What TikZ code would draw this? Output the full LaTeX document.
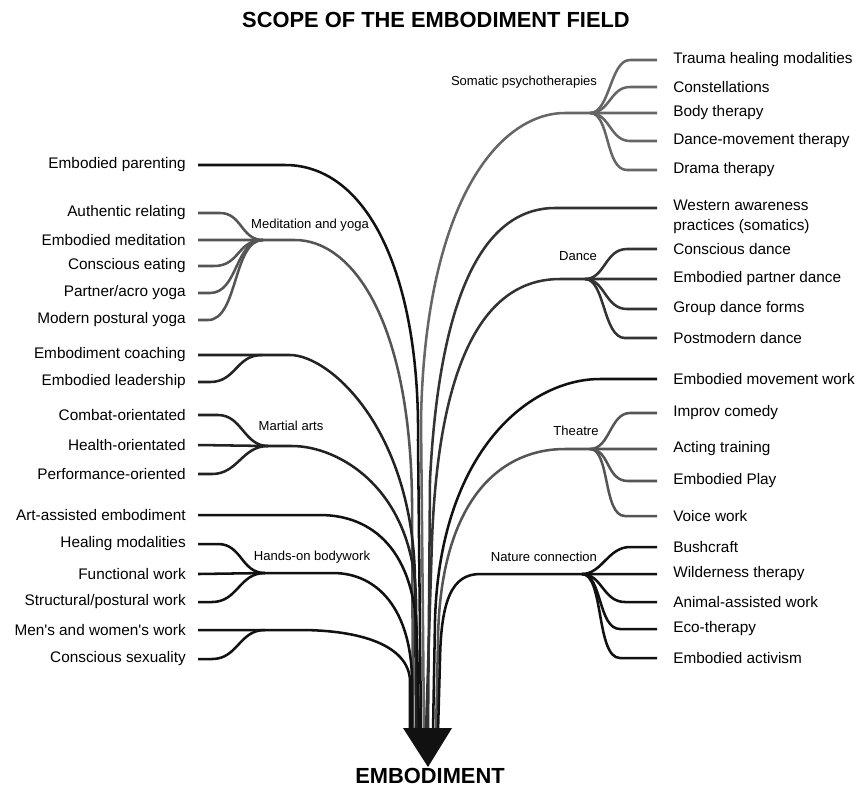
\documentclass[tikz,border=0pt]{standalone}
\usepackage{fontspec}
\setmainfont{Liberation Sans}
\definecolor{cBlk}{HTML}{111111}
\definecolor{cDk}{HTML}{222222}
\definecolor{cMd}{HTML}{333333}
\definecolor{cGr}{HTML}{555555}
\definecolor{cLt}{HTML}{666666}
\begin{document}
\begin{tikzpicture}[x=0.75pt,y=-0.75pt,
  lbl/.style={anchor=east,inner xsep=9pt,inner ysep=0pt,font=\fontsize{11.5}{15}\selectfont},
  rlbl/.style={anchor=west,inner xsep=12pt,inner ysep=0pt,font=\fontsize{11.5}{15}\selectfont,align=left},
  cat/.style={inner sep=0pt,font=\fontsize{9.8}{11}\selectfont},
  ttl/.style={inner sep=0pt,font=\bfseries\fontsize{16.4}{18}\selectfont},
  br/.style={line width=1.9pt}]
\useasboundingbox (0,0) rectangle (862,794);

% titles
\node[ttl] (title) at (436,20) {SCOPE OF THE EMBODIMENT FIELD};
\node[ttl] (emb) at (430,776) {EMBODIMENT};

% ---------- left labels ----------
\node[lbl] (p0) at (198,165) {Embodied parenting};
\node[lbl] (a1) at (198,213) {Authentic relating};
\node[lbl] (a2) at (198,240) {Embodied meditation};
\node[lbl] (a3) at (198,266) {Conscious eating};
\node[lbl] (a4) at (198,293) {Partner/acro yoga};
\node[lbl] (a5) at (198,320) {Modern postural yoga};
\node[lbl] (c1) at (198,355) {Embodiment coaching};
\node[lbl] (c2) at (198,382) {Embodied leadership};
\node[lbl] (m1) at (198,415) {Combat-orientated};
\node[lbl] (m2) at (198,445) {Health-orientated};
\node[lbl] (m3) at (198,474) {Performance-oriented};
\node[lbl] (art) at (198,515) {Art-assisted embodiment};
\node[lbl] (h1) at (198,544) {Healing modalities};
\node[lbl] (h2) at (198,574) {Functional work};
\node[lbl] (h3) at (198,602) {Structural/postural work};
\node[lbl] (w1) at (198,630) {Men\textquotesingle s and women\textquotesingle s work};
\node[lbl] (w2) at (198,659) {Conscious sexuality};

% ---------- right labels ----------
\node[rlbl] (s1) at (657,60) {Trauma healing modalities};
\node[rlbl] (s2) at (657,87) {Constellations};
\node[rlbl] (s3) at (657,113) {Body therapy};
\node[rlbl] (s4) at (657,141) {Dance-movement therapy};
\node[rlbl] (s5) at (657,170) {Drama therapy};
\node[rlbl] (wa) at (657,217) {Western awareness\\practices (somatics)};
\node[rlbl] (d1) at (657,249) {Conscious dance};
\node[rlbl] (d2) at (657,279) {Embodied partner dance};
\node[rlbl] (d3) at (657,309) {Group dance forms};
\node[rlbl] (d4) at (657,338) {Postmodern dance};
\node[rlbl] (mv) at (657,379) {Embodied movement work};
\node[rlbl] (t1) at (657,413) {Improv comedy};
\node[rlbl] (t2) at (657,449) {Acting training};
\node[rlbl] (t3) at (657,481) {Embodied Play};
\node[rlbl] (t4) at (657,516) {Voice work};
\node[rlbl] (n1) at (657,547) {Bushcraft};
\node[rlbl] (n2) at (657,574) {Wilderness therapy};
\node[rlbl] (n3) at (657,602) {Animal-assisted work};
\node[rlbl] (n4) at (657,629) {Eco-therapy};
\node[rlbl] (n5) at (657,658) {Embodied activism};

% ---------- category labels ----------
\node[cat] (catS) at (524,82) {Somatic psychotherapies};
\node[cat] (catM) at (310,225) {Meditation and yoga};
\node[cat] (catD) at (578,256) {Dance};
\node[cat] (catMA) at (291,426) {Martial arts};
\node[cat] (catT) at (576,431) {Theatre};
\node[cat] (catH) at (312,557) {Hands-on bodywork};
\node[cat] (catN) at (544,557) {Nature connection};

% ---------- hubs ----------
\coordinate (hubM) at (263,240);
\coordinate (hubC) at (262,355);
\coordinate (hubMA) at (268,446);
\coordinate (hubH) at (265,573);
\coordinate (hubW) at (265,630);
\coordinate (hubS) at (590,113);
\coordinate (hubD) at (585,279);
\coordinate (hubT) at (590,449);
\coordinate (hubN) at (582,574);

% ---------- leaves left ----------
\draw[br,cGr] (a1.east) -- ++(22,0) .. controls +(22,0) and +(-22,0) .. (hubM);
\draw[br,cGr] (a3.east) -- ++(16,0) .. controls +(26,0) and +(-26,0) .. (hubM);
\draw[br,cGr] (a4.east) -- ++(12,0) .. controls +(28,0) and +(-28,0) .. (hubM);
\draw[br,cGr] (a5.east) -- ++(10,0) .. controls +(30,0) and +(-30,0) .. (hubM);
\draw[br,cDk] (c2.east) -- ++(12,0) .. controls +(26,0) and +(-26,0) .. (hubC);
\draw[br,cDk] (m1.east) -- ++(20,0) .. controls +(24,0) and +(-24,0) .. (hubMA);
\draw[br,cDk] (m3.east) -- ++(14,0) .. controls +(26,0) and +(-26,0) .. (hubMA);
\draw[br,cBlk] (h1.east) -- ++(20,0) .. controls +(24,0) and +(-24,0) .. (hubH);
\draw[br,cBlk] (h3.east) -- ++(14,0) .. controls +(26,0) and +(-26,0) .. (hubH);
\draw[br,cBlk] (w2.east) -- ++(14,0) .. controls +(26,0) and +(-26,0) .. (hubW);

% ---------- leaves right ----------
\draw[br,cLt] (s1.west) -- ++(-27,0) .. controls +(-20,0) and +(20,0) .. (hubS);
\draw[br,cLt] (s2.west) -- ++(-27,0) .. controls +(-20,0) and +(20,0) .. (hubS);
\draw[br,cLt] (s4.west) -- ++(-27,0) .. controls +(-20,0) and +(20,0) .. (hubS);
\draw[br,cLt] (s5.west) -- ++(-30,0) .. controls +(-22,0) and +(20,0) .. (hubS);
\draw[br,cMd] (d1.west) -- ++(-30,0) .. controls +(-22,0) and +(20,0) .. (hubD);
\draw[br,cMd] (d3.west) -- ++(-30,0) .. controls +(-22,0) and +(20,0) .. (hubD);
\draw[br,cMd] (d4.west) -- ++(-32,0) .. controls +(-22,0) and +(20,0) .. (hubD);
\draw[br,cGr] (t1.west) -- ++(-27,0) .. controls +(-20,0) and +(20,0) .. (hubT);
\draw[br,cGr] (t3.west) -- ++(-29,0) .. controls +(-22,0) and +(20,0) .. (hubT);
\draw[br,cGr] (t4.west) -- ++(-32,0) .. controls +(-22,0) and +(20,0) .. (hubT);
\draw[br,cBlk] (n1.west) -- ++(-27,0) .. controls +(-22,0) and +(20,0) .. (hubN);
\draw[br,cBlk] (n3.west) -- ++(-32,0) .. controls +(-22,0) and +(20,0) .. (hubN);
\draw[br,cBlk] (n4.west) -- ++(-37,0) .. controls +(-22,0) and +(20,0) .. (hubN);
\draw[br,cBlk] (n5.west) -- ++(-37,0) .. controls +(-24,0) and +(22,0) .. (hubN);

% ---------- trunk branches ----------
\coordinate (bP) at (421,732);
\coordinate (bM) at (413,732);
\coordinate (bC) at (416,732);
\coordinate (bMA) at (418,732);
\coordinate (bA) at (419,732);
\coordinate (bH) at (412,732);
\coordinate (bW) at (410,732);
\coordinate (bS) at (424,732);
\coordinate (bWA) at (428,732);
\coordinate (bD) at (426,732);
\coordinate (bMV) at (433,732);
\coordinate (bT) at (436,732);
\coordinate (bN) at (438,732);

\draw[br,cBlk] (p0.east) -- (285,165) .. controls (370,165) and (420,280) .. (418,440) -- (bP);
\draw[br,cGr] (a2.east) -- (hubM) -- (295,240) .. controls (352,240) and (410,320) .. (412,500) -- (bM);
\draw[br,cDk] (c1.east) -- (hubC) -- (290,355) .. controls (330,355) and (413,430) .. (415,580) -- (bC);
\draw[br,cDk] (m2.east) -- (hubMA) -- (292,446) .. controls (340,446) and (414,490) .. (416,600) -- (bMA);
\draw[br,cBlk] (art.east) -- (320,515) .. controls (372,515) and (416,550) .. (417,640) -- (bA);
\draw[br,cBlk] (h2.east) -- (hubH) -- (333,573) .. controls (378,573) and (411,610) .. (412,680) -- (bH);
\draw[br,cBlk] (w1.east) -- (hubW) -- (300,630) .. controls (360,630) and (408,645) .. (410,680) -- (bW);

\draw[br,cLt] (s3.west) -- (hubS) -- (565,113) .. controls (500,113) and (425,200) .. (421,420) -- (bS);
\draw[br,cMd] ([yshift=6.75pt]wa.west) -- (555,208) .. controls (490,208) and (440,280) .. (430,480) -- (bWA);
\draw[br,cMd] (d2.west) -- (hubD) -- (560,279) .. controls (500,279) and (440,330) .. (432,540) -- (bD);
\draw[br,cBlk] (mv.west) -- (600,379) .. controls (530,379) and (440,450) .. (435,620) -- (bMV);
\draw[br,cGr] (t2.west) -- (hubT) -- (565,449) .. controls (500,449) and (440,500) .. (438,640) -- (bT);
\draw[br,cBlk] (n2.west) -- (hubN) -- (480,574) .. controls (452,574) and (441,600) .. (440,660) -- (bN);

% ---------- arrowhead ----------
\coordinate (arL) at (403,728);
\coordinate (arR) at (452,728);
\coordinate (arT) at (428,767);
\fill[cBlk] (arL) -- (arR) -- (arT) -- cycle;
\end{tikzpicture}
\end{document}
